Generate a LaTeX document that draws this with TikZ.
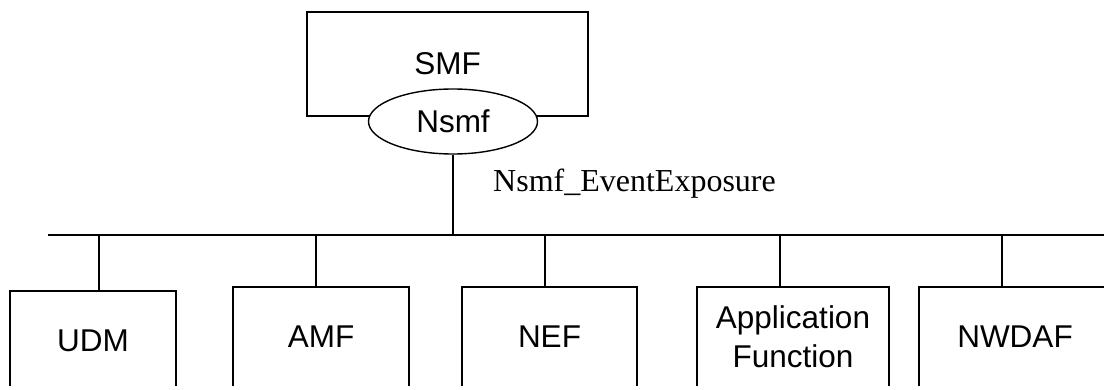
\documentclass[tikz,border=0pt]{standalone}
\usepackage{fontspec}
\setmainfont{Liberation Serif}
\newfontfamily\arialf{Liberation Sans}
\usetikzlibrary{shapes.geometric}
\begin{document}
\begin{tikzpicture}[x=1pt,y=-1pt,
  nf/.style={draw, line width=1.4pt, rectangle, inner sep=0pt, font=\arialf\fontsize{31.5}{39}\selectfont, align=center},
  ln/.style={line width=1.4pt},
  lbl/.style={anchor=base west, inner sep=0pt, font=\fontsize{32}{38}\selectfont}
]
\useasboundingbox (0,0) rectangle (1104,390);
\clip (0,0) rectangle (1104,385);
% top function
\node[nf, minimum width=281, minimum height=104] (smf) at (447.5,64) {SMF};
\node[nf, ellipse, fill=white, minimum width=169, minimum height=65] (nsmf) at (453,121.5) {Nsmf};
% bus
\coordinate (busL) at (48,235);
\coordinate (busR) at (1104,235);
\draw[ln] (busL) -- (busR);
\draw[ln] (nsmf.south) -- (nsmf.south |- busL);
\node[lbl] (svc) at (493,192) {Nsmf\_EventExposure};
% consumers
\node[nf, minimum width=166, minimum height=100] (udm) at (93,341) {UDM};
\node[nf, minimum width=176, minimum height=100] (amf) at (321,337) {AMF};
\node[nf, minimum width=175, minimum height=100] (nef) at (549.5,337) {NEF};
\node[nf, minimum width=192, minimum height=100] (af) at (793,337) {Application\\Function};
\node[nf, minimum width=192, minimum height=100] (nwdaf) at (1015,337) {NWDAF};
% stubs
\coordinate (s1) at (99,235);
\coordinate (s2) at (316,235);
\coordinate (s3) at (545,235);
\coordinate (s4) at (780,235);
\coordinate (s5) at (1002,235);
\draw[ln] (s1) -- (s1 |- udm.north);
\draw[ln] (s2) -- (s2 |- amf.north);
\draw[ln] (s3) -- (s3 |- nef.north);
\draw[ln] (s4) -- (s4 |- af.north);
\draw[ln] (s5) -- (s5 |- nwdaf.north);
\end{tikzpicture}
\end{document}
